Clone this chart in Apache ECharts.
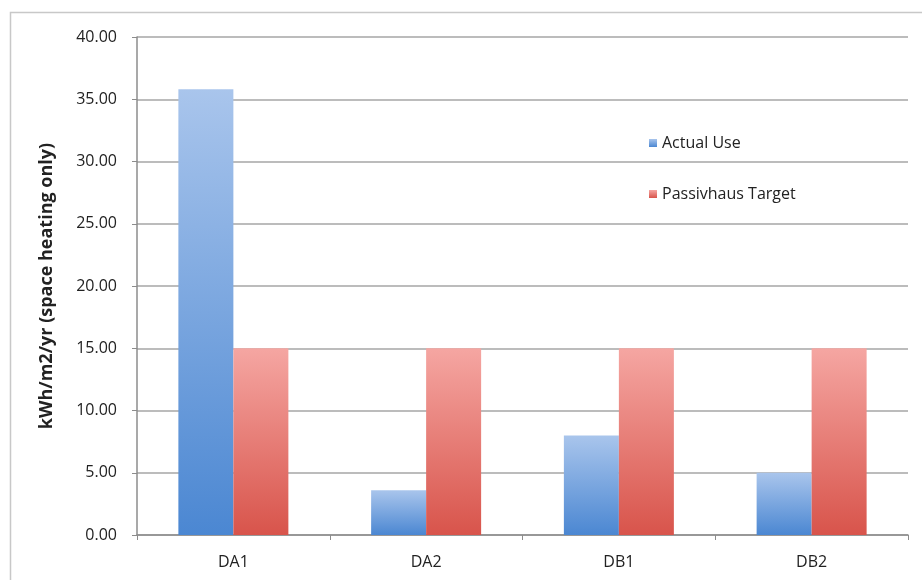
<!DOCTYPE html>
<html>
<head>
<meta charset="utf-8">
<script src="https://cdn.jsdelivr.net/npm/echarts@6/dist/echarts.min.js"></script>
<style>
  html, body { margin: 0; padding: 0; background: #fff; }
  #chart { width: 922px; height: 580px; }
</style>
</head>
<body>
<div id="chart"></div>
<script>
// Space heating demand per dwelling vs. the Passivhaus limit
const categories = ['DA1', 'DA2', 'DB1', 'DB2'];
const actualUse = [35.8, 3.6, 8.0, 5.0];
const passivhausTarget = [15, 15, 15, 15];
const yTicks = { min: 0, max: 40, interval: 5 };

const font = 'Open Sans, Liberation Sans, sans-serif';

function vGrad(top, bottom) {
  return new echarts.graphic.LinearGradient(0, 0, 0, 1, [
    { offset: 0, color: top },
    { offset: 1, color: bottom }
  ]);
}

const chart = echarts.init(document.getElementById('chart'));
chart.setOption({
  animation: false,
  backgroundColor: '#fff',
  graphic: [{
    type: 'rect',
    shape: { x: 10.5, y: 12.5, width: 930, height: 600 },
    style: { fill: 'none', stroke: '#c8c8c8', lineWidth: 1.5 },
    silent: true,
    z: -1
  }],
  grid: { left: 137, right: 14, top: 37, bottom: 45 },
  legend: {
    orient: 'vertical',
    left: 644,
    top: 130,
    itemGap: 35,
    itemWidth: 8,
    itemHeight: 8,
    icon: 'rect',
    textStyle: { fontFamily: font, fontSize: 16, color: '#222' },
    data: ['Actual Use', 'Passivhaus Target']
  },
  xAxis: {
    type: 'category',
    data: categories,
    boundaryGap: true,
    axisLine: { lineStyle: { color: '#8c8c8c', width: 1.5 } },
    axisTick: { show: true, length: 5, lineStyle: { color: '#8c8c8c' } },
    axisLabel: { fontFamily: font, fontSize: 16, color: '#222', margin: 19 }
  },
  yAxis: {
    type: 'value',
    min: yTicks.min,
    max: yTicks.max,
    interval: yTicks.interval,
    name: 'kWh/m2/yr (space heating only)',
    nameLocation: 'middle',
    nameGap: 81,
    nameTextStyle: { fontFamily: font, fontSize: 18, fontWeight: 'bold', color: '#222' },
    axisLine: { show: true, lineStyle: { color: '#8c8c8c', width: 1.5 } },
    axisTick: { show: true, length: 5, lineStyle: { color: '#8c8c8c' } },
    axisLabel: {
      fontFamily: font, fontSize: 16, color: '#222', margin: 20,
      formatter: v => v.toFixed(2)
    },
    splitLine: { lineStyle: { color: '#a6a6a6', width: 1.5 } }
  },
  series: [
    {
      name: 'Actual Use',
      type: 'bar',
      data: actualUse,
      barWidth: 55,
      barGap: '0%',
      itemStyle: { color: vGrad('#a9c5ec', '#4b87d2') }
    },
    {
      name: 'Passivhaus Target',
      type: 'bar',
      data: passivhausTarget,
      barWidth: 55,
      barGap: '0%',
      itemStyle: { color: vGrad('#f5a6a2', '#d8544b') }
    }
  ]
});
</script>
</body>
</html>
